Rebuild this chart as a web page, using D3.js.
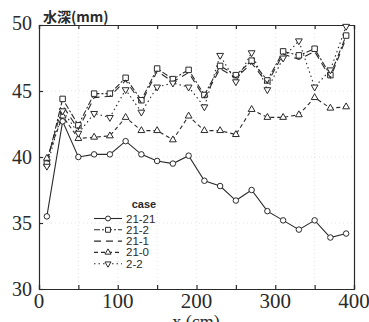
<!DOCTYPE html>
<html><head><meta charset="utf-8">
<script src="https://cdn.jsdelivr.net/npm/d3@7"></script>
<style>body{margin:0;background:#fff}svg{display:block}</style>
</head><body>
<script>
const xs = [10,30,50,70,90,110,130,150,170,190,210,230,250,270,290,310,330,350,370,390];
const s2121 = [35.5,42.7,40.0,40.2,40.2,41.2,40.2,39.7,39.5,40.1,38.2,37.8,36.7,37.5,35.9,35.2,34.5,35.2,33.9,34.2];
const s212  = [39.5,44.4,42.4,44.8,44.8,46.0,44.3,46.7,45.9,46.6,44.7,46.9,46.2,47.3,45.8,48.0,47.7,48.2,46.2,49.2];
const s211  = [39.7,43.9,42.1,44.5,44.6,45.8,44.1,46.5,45.7,46.4,44.5,46.7,46.0,47.1,45.6,47.8,47.4,48.0,46.0,49.0];
const s210  = [39.9,43.1,41.4,41.5,41.6,43.0,42.0,42.0,41.3,43.1,42.0,42.0,41.7,43.6,43.0,43.0,43.2,44.5,43.7,43.8];
const s22   = [39.3,43.5,41.8,43.3,43.0,45.1,43.4,45.3,45.6,45.3,43.8,47.7,45.7,47.9,45.1,47.5,48.8,45.3,46.6,49.9];
const xTicks = [0,100,200,300,400];
const yTicks = [30,35,40,45,50];
const seriesNames = ["21-21","21-2","21-1","21-0","2-2"];

(function(){
const W=369,H=322;
const svg=d3.select("body").append("svg").attr("width",W).attr("height",H);
const x=d3.scaleLinear().domain([0,400]).range([39,354]);
const y=d3.scaleLinear().domain([30,50]).range([289,25]);
const ink="#2a2a2a";

// faint grid
const g=svg.append("g");
g.selectAll("line.gx").data(d3.range(50,400,50)).join("line")
 .attr("x1",d=>x(d)).attr("x2",d=>x(d)).attr("y1",y(50)).attr("y2",y(30))
 .attr("stroke","#e4e4e4").attr("stroke-dasharray","1,3");
g.selectAll("line.gy").data([35,40,45]).join("line")
 .attr("y1",d=>y(d)).attr("y2",d=>y(d)).attr("x1",x(0)).attr("x2",x(400))
 .attr("stroke","#e4e4e4").attr("stroke-dasharray","1,3");

// axes
const axB=svg.append("g").attr("transform",`translate(0,${y(30)})`)
 .call(d3.axisBottom(x).tickValues(d3.range(0,401,50)).tickSize(-4).tickFormat(""));
const axT=svg.append("g").attr("transform",`translate(0,${y(50)})`)
 .call(d3.axisTop(x).tickValues(d3.range(0,401,50)).tickSize(-4).tickFormat(""));
const axL=svg.append("g").attr("transform",`translate(${x(0)},0)`)
 .call(d3.axisLeft(y).tickValues(yTicks).tickSize(-4).tickFormat(""));
const axR=svg.append("g").attr("transform",`translate(${x(400)},0)`)
 .call(d3.axisRight(y).tickValues([]).tickSize(0).tickFormat(""));
[axB,axT,axL,axR].forEach(a=>{a.selectAll("path,line").attr("stroke",ink).attr("stroke-width",1.2);});

// tick labels
svg.selectAll("text.yl").data(yTicks).join("text")
 .attr("x",32).attr("y",d=>y(d)+(d===50?-2:0)).attr("dy","0.35em").attr("text-anchor","end")
 .attr("font-family","Liberation Serif").attr("font-size",20).attr("fill",ink).text(d=>d);
svg.selectAll("text.xl").data(xTicks).join("text")
 .attr("x",d=>x(d)).attr("y",308).attr("text-anchor","middle")
 .attr("font-family","Liberation Serif").attr("font-size",21).attr("fill",ink).text(d=>d);
svg.append("text").attr("x",43).attr("y",22).attr("font-family","Noto Sans CJK JP")
 .attr("font-weight","bold").attr("font-size",14).attr("fill",ink).text("水深(mm)");
svg.append("text").attr("x",196).attr("y",328).attr("text-anchor","middle")
 .attr("font-family","Liberation Serif").attr("font-size",18).attr("fill",ink).text("x (cm)");

// series
const series=[
 {name:seriesNames[0],vals:s2121,dash:null,mark:"circle"},
 {name:seriesNames[1],vals:s212,dash:"6,2,2,2",mark:"square"},
 {name:seriesNames[2],vals:s211,dash:"7,5",mark:null},
 {name:seriesNames[3],vals:s210,dash:"4,3",mark:"triangle"},
 {name:seriesNames[4],vals:s22,dash:"1.5,3",mark:"tridown"}
];
const symType={circle:d3.symbolCircle,square:d3.symbolSquare,triangle:d3.symbolTriangle,tridown:d3.symbolTriangle};
const symSize={circle:24,square:30,triangle:20,tridown:20};
const line=d3.line().x(d=>x(d[0])).y(d=>y(d[1]));
series.forEach(s=>{
  const pts=xs.map((xx,i)=>[xx,s.vals[i]]);
  svg.append("path").datum(pts).attr("d",line).attr("fill","none").attr("stroke",ink)
   .attr("stroke-width",1.1).attr("stroke-dasharray",s.dash);
  if(s.mark){
    svg.append("g").selectAll("path").data(pts).join("path")
     .attr("d",d3.symbol().type(symType[s.mark]).size(symSize[s.mark])())
     .attr("fill","#fff").attr("stroke",ink).attr("stroke-width",1)
     .attr("transform",p=>`translate(${x(p[0])},${y(p[1])})`+(s.mark==="tridown"?" rotate(180)":""));
  }
});

// legend
const lg=svg.append("g");
lg.append("text").attr("x",144).attr("y",208).attr("text-anchor","middle")
 .attr("font-family","Liberation Sans Narrow, Liberation Sans").attr("font-weight","bold")
 .attr("font-size",11).attr("fill",ink).text("case");
series.forEach((s,i)=>{
  const yy=218.5+i*11.3;
  lg.append("line").attr("x1",94).attr("x2",122).attr("y1",yy).attr("y2",yy)
   .attr("stroke",ink).attr("stroke-width",1.1).attr("stroke-dasharray",s.dash);
  if(s.mark){
    lg.append("path").attr("d",d3.symbol().type(symType[s.mark]).size(symSize[s.mark]*0.8)())
     .attr("fill","#fff").attr("stroke",ink)
     .attr("transform",`translate(108,${yy})`+(s.mark==="tridown"?" rotate(180)":""));
  }
  lg.append("text").attr("x",126).attr("y",yy+4)
   .attr("font-family","Liberation Sans Narrow, Liberation Sans").attr("font-size",11.5)
   .attr("fill",ink).text(s.name);
});
})();
</script>
</body></html>
